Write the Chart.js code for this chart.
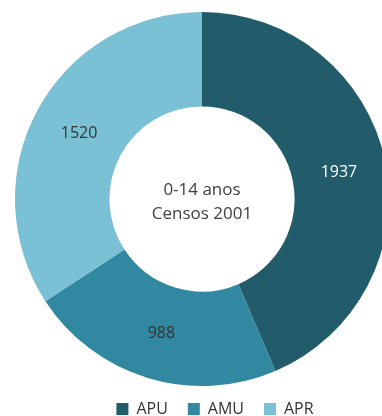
<!DOCTYPE html>
<html>
<head>
<meta charset="utf-8">
<script src="https://cdn.jsdelivr.net/npm/chart.js@4/dist/chart.umd.min.js"></script>
<style>
  html, body { margin: 0; padding: 0; background: #ffffff; overflow: hidden; width: 382px; height: 416px; }
  #wrap { position: absolute; left: 0; top: 0; width: 382px; height: 416px; overflow: hidden; }
  canvas { display: block; }
</style>
</head>
<body>
<div id="wrap"><canvas id="chart" width="404" height="432"></canvas></div>
<script>
// Population aged 0-14, Census 2001
const categories = ['APU', 'AMU', 'APR'];
const values = [1937, 988, 1520];
const centerLines = ['0-14 anos', 'Censos 2001'];
const colors = ['#225c6b', '#3288a0', '#7bc1d5'];
const labelColors = ['#ffffff', '#333333', '#333333'];

const FONT = '"Open Sans", "Noto Sans", sans-serif';

// Writes each slice's value at the middle of its ring segment
const sliceValues = {
  id: 'sliceValues',
  afterDatasetsDraw(chart) {
    const ctx = chart.ctx;
    const meta = chart.getDatasetMeta(0);
    ctx.save();
    ctx.font = '16px ' + FONT;
    ctx.textAlign = 'center';
    ctx.textBaseline = 'middle';
    meta.data.forEach((arc, i) => {
      const p = arc.getCenterPoint();
      ctx.fillStyle = labelColors[i];
      ctx.fillText(String(chart.data.datasets[0].data[i]), p.x, p.y + 1);
    });
    ctx.restore();
  }
};

// Two-line caption inside the hole
const centerText = {
  id: 'centerText',
  afterDatasetsDraw(chart) {
    const ctx = chart.ctx;
    const arc = chart.getDatasetMeta(0).data[0];
    const cx = arc.x, cy = arc.y;
    ctx.save();
    ctx.font = '17px ' + FONT;
    ctx.fillStyle = '#404040';
    ctx.textAlign = 'center';
    ctx.textBaseline = 'middle';
    ctx.fillText(centerLines[0], cx, cy - 9);
    ctx.fillText(centerLines[1], cx, cy + 15);
    ctx.restore();
  }
};

// Moves the legend a little right and up under the ring
const legendNudge = {
  id: 'legendNudge',
  afterLayout(chart) {
    const lg = chart.legend;
    if (!lg) return;
    lg.left += 13; lg.right += 13;
    lg.top -= 5; lg.bottom -= 5;
  }
};

new Chart(document.getElementById('chart'), {
  type: 'doughnut',
  data: {
    labels: categories,
    datasets: [{
      data: values,
      backgroundColor: colors,
      borderWidth: 0,
      hoverOffset: 0
    }]
  },
  options: {
    responsive: false,
    animation: false,
    devicePixelRatio: 1,
    cutout: '49.5%',
    rotation: 0,
    layout: { padding: { top: 12, bottom: 0, left: 0, right: 0 } },
    plugins: {
      tooltip: { enabled: false },
      legend: {
        position: 'bottom',
        labels: {
          boxWidth: 12,
          boxHeight: 12,
          padding: 20,
          color: '#333333',
          font: { family: FONT, size: 16 }
        }
      }
    }
  },
  plugins: [sliceValues, centerText, legendNudge]
});
</script>
</body>
</html>
